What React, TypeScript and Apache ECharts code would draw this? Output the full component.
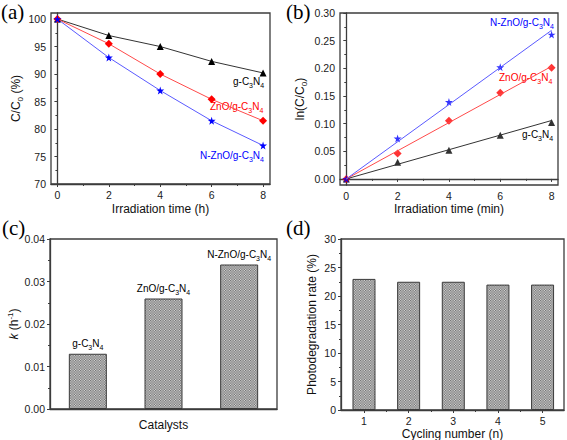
import React, { useEffect, useRef } from 'react';
import * as echarts from 'echarts';

// ---------- data ----------
const timeH = [0, 2, 4, 6, 8];
const aG = [100, 97, 95, 92.3, 90.2];
const aZnO = [100, 95.5, 90, 85.4, 81.5];
const aNZnO = [100, 93, 87, 81.5, 77];

const timeMin = [0, 2, 4, 6, 8];
const bG = [0, 0.03, 0.052, 0.079, 0.102];
const bZnO = [0, 0.046, 0.105, 0.156, 0.201];
const bNZnO = [0, 0.073, 0.139, 0.202, 0.261];
const fitX = [0, 8];
const fitG = [0, 0.1056];
const fitZnO = [0, 0.2035];
const fitNZnO = [0, 0.2687];

const catalysts = ['g-C3N4', 'ZnO/g-C3N4', 'N-ZnO/g-C3N4'];
const catalystRich = ['{n|g-C}{s|3}{n|N}{s|4}', '{n|ZnO/g-C}{s|3}{n|N}{s|4}', '{n|N-ZnO/g-C}{s|3}{n|N}{s|4}'];
const kValues = [0.013, 0.026, 0.034];

const cycles = [1, 2, 3, 4, 5];
const rates = [23, 22.5, 22.5, 22, 22];

// tick values
const aXMajor = [0, 2, 4, 6, 8];
const aXMinor = [1, 3, 5, 7];
const aYMajor = [70, 75, 80, 85, 90, 95, 100];
const aYMinor = [72.5, 77.5, 82.5, 87.5, 92.5, 97.5];
const bYMajor = [0, 0.05, 0.1, 0.15, 0.2, 0.25, 0.3];
const bYMinor = [0.025, 0.075, 0.125, 0.175, 0.225, 0.275];
const dXMinor = [1.5, 2.5, 3.5, 4.5];

const SANS = 'Liberation Sans, Arial, sans-serif';
const SERIF = 'Liberation Serif, Times New Roman, serif';
const AX = '#3c3c3c';

const zip = (xs: number[], ys: number[]) => xs.map((x, i) => [x, ys[i]]);

// rich styles for series labels (color) and graphic texts (fill)
const richLbl = (color: string) => ({
  n: { fontSize: 10, lineHeight: 15, color, fontFamily: SANS },
  s: { fontSize: 7, color, fontFamily: SANS, verticalAlign: 'bottom' },
});
const richFill = (fill: string) => ({
  n: { fontSize: 10, lineHeight: 15, fill, fontFamily: SANS },
  s: { fontSize: 7, fill, fontFamily: SANS, verticalAlign: 'bottom' },
});
const richName = {
  n: { fontSize: 12, lineHeight: 16, color: '#111', fontFamily: SANS },
  i: { fontSize: 12, lineHeight: 16, color: '#111', fontFamily: SANS, fontStyle: 'italic' },
  s: { fontSize: 8, color: '#111', fontFamily: SANS, verticalAlign: 'bottom' },
  p: { fontSize: 8, color: '#111', fontFamily: SANS, verticalAlign: 'top' },
};
const tickLabel = { fontFamily: SANS, fontSize: 10.5, color: '#1a1a1a' };
const axisLine = { show: true, lineStyle: { color: AX, width: 1.3 } };

function mainAxis(gridIndex: number, min: number, max: number, major: number[], extra: any = {}) {
  return {
    type: 'value', gridIndex, min, max,
    axisLine,
    splitLine: { show: false },
    axisTick: { show: true, inside: false, length: 3, customValues: major, lineStyle: { color: AX, width: 1 } },
    axisLabel: { ...tickLabel, customValues: major, margin: 5 },
    ...extra,
  };
}
function minorAxis(gridIndex: number, min: number, max: number, minor: number[], position: string) {
  return {
    type: 'value', gridIndex, min, max, position,
    axisLine: { show: false },
    splitLine: { show: false },
    axisTick: { show: true, inside: false, length: 2, customValues: minor, lineStyle: { color: AX, width: 1 } },
    axisLabel: { show: false },
  };
}

const STAR = 'path://M50,0 L61,35 L98,35 L68,57 L79,91 L50,70 L21,91 L32,57 L2,35 L39,35 Z';

export default function App() {
  const ref = useRef<HTMLDivElement>(null);
  useEffect(() => {
    if (!ref.current) return;
    const chart = echarts.init(ref.current, undefined, { renderer: 'svg' });

    const cv = document.createElement('canvas');
    cv.width = 4; cv.height = 4;
    const ctx = cv.getContext('2d')!;
    ctx.fillStyle = '#dadada'; ctx.fillRect(0, 0, 4, 4);
    ctx.fillStyle = '#6a6a6a'; ctx.fillRect(0, 0, 2, 2); ctx.fillRect(2, 2, 2, 2);
    const pattern: any = { image: cv.toDataURL(), repeat: 'repeat', imageWidth: 2.5, imageHeight: 2.5 };

    const gridBase = { show: true, borderColor: AX, borderWidth: 1.3, backgroundColor: 'transparent', outerBoundsMode: 'none' };
    const nameCommon = (gap: number) => ({ nameLocation: 'middle', nameGap: gap, nameTextStyle: { rich: richName } });

    const option: any = {
      animation: false,
      grid: [
        { ...gridBase, left: 51, top: 13, width: 219, height: 171 },
        { ...gridBase, left: 340, top: 13, width: 218, height: 172 },
        { ...gridBase, left: 50, top: 239, width: 227, height: 170 },
        { ...gridBase, left: 341, top: 239, width: 223, height: 171 },
      ],
      xAxis: [
        mainAxis(0, -0.25, 8.27, aXMajor, { name: '{n|Irradiation time (h)}', ...nameCommon(17) }),
        minorAxis(0, -0.25, 8.27, aXMinor, 'bottom'),
        mainAxis(1, -0.245, 8.25, aXMajor, { name: '{n|Irradiation time (min)}', ...nameCommon(16) }),
        minorAxis(1, -0.245, 8.25, aXMinor, 'bottom'),
        {
          type: 'category', gridIndex: 2, data: catalysts,
          axisLine, axisTick: { show: false }, axisLabel: { show: false },
          name: '{n|Catalysts}', ...nameCommon(8),
        },
        mainAxis(3, 0.485, 5.48, cycles, { name: '{n|Cycling number (n)}', ...nameCommon(16) }),
        minorAxis(3, 0.485, 5.48, dXMinor, 'bottom'),
      ],
      yAxis: [
        mainAxis(0, 70, 101.1, aYMajor, { position: 'left', name: '{n|C/C}{s|0}{n| (%)}', ...nameCommon(27) }),
        minorAxis(0, 70, 101.1, aYMinor, 'left'),
        mainAxis(1, -0.011, 0.3, bYMajor, {
          position: 'left', name: '{n|ln(C/C}{s|0}{n|)}', ...nameCommon(32),
          axisLabel: { ...tickLabel, customValues: bYMajor, margin: 5, formatter: (v: number) => v.toFixed(2) },
        }),
        minorAxis(1, -0.011, 0.3, bYMinor, 'left'),
        {
          type: 'value', gridIndex: 2, min: 0, max: 0.04, interval: 0.01, position: 'left',
          axisLine, splitLine: { show: false },
          axisTick: { show: true, length: 3, lineStyle: { color: AX } },
          minorTick: { show: true, splitNumber: 2, length: 2, lineStyle: { color: AX } },
          axisLabel: { ...tickLabel, margin: 5, formatter: (v: number) => v.toFixed(2) },
          name: '{i|k}{n| (h}{p|-1}{n|)}', ...nameCommon(28),
        },
        {
          type: 'value', gridIndex: 3, min: 0, max: 30, interval: 5, position: 'left',
          axisLine, splitLine: { show: false },
          axisTick: { show: true, length: 3, lineStyle: { color: AX } },
          minorTick: { show: true, splitNumber: 2, length: 2, lineStyle: { color: AX } },
          axisLabel: { ...tickLabel, margin: 5 },
          name: '{n|Photodegradation rate (%)}', ...nameCommon(21),
        },
      ],
      series: [
        // (a)
        { type: 'line', xAxisIndex: 0, yAxisIndex: 0, data: zip(timeH, aG), symbol: 'triangle', symbolSize: 7, color: '#000', lineStyle: { width: 1, color: '#333' } },
        { type: 'line', xAxisIndex: 0, yAxisIndex: 0, data: zip(timeH, aZnO), symbol: 'diamond', symbolSize: 8, color: '#ff0000', lineStyle: { width: 1, color: '#ff4a4a' } },
        { type: 'line', xAxisIndex: 0, yAxisIndex: 0, data: zip(timeH, aNZnO), symbol: STAR, symbolSize: 8, color: '#0000ff', lineStyle: { width: 1, color: '#5a5aff' } },
        // (b) fit lines
        { type: 'line', xAxisIndex: 2, yAxisIndex: 2, data: zip(fitX, fitG), symbol: 'none', lineStyle: { width: 1, color: '#333' } },
        { type: 'line', xAxisIndex: 2, yAxisIndex: 2, data: zip(fitX, fitZnO), symbol: 'none', lineStyle: { width: 1, color: '#ff4a4a' } },
        { type: 'line', xAxisIndex: 2, yAxisIndex: 2, data: zip(fitX, fitNZnO), symbol: 'none', lineStyle: { width: 1, color: '#5a5aff' } },
        // (b) points
        { type: 'scatter', xAxisIndex: 2, yAxisIndex: 2, data: zip(timeMin, bG), symbol: 'triangle', symbolSize: 7, itemStyle: { color: '#000' } },
        { type: 'scatter', xAxisIndex: 2, yAxisIndex: 2, data: zip(timeMin, bZnO), symbol: 'diamond', symbolSize: 8, itemStyle: { color: '#ff0000' } },
        { type: 'scatter', xAxisIndex: 2, yAxisIndex: 2, data: zip(timeMin, bNZnO), symbol: STAR, symbolSize: 8, itemStyle: { color: '#0000ff' } },
        // (c)
        {
          type: 'bar', xAxisIndex: 4, yAxisIndex: 4, data: kValues, barWidth: 38,
          itemStyle: { color: pattern, borderColor: '#3a3a3a', borderWidth: 1 },
          label: {
            show: true, position: 'top', distance: 3,
            formatter: (p: any) => catalystRich[p.dataIndex],
            rich: richLbl('#000'),
          },
        },
        // (d)
        {
          type: 'bar', xAxisIndex: 5, yAxisIndex: 5, data: zip(cycles, rates), barWidth: 23,
          itemStyle: { color: pattern, borderColor: '#3a3a3a', borderWidth: 1 },
        },
      ],
      graphic: [
        { type: 'text', x: 1, y: 12, style: { text: '(a)', font: `21px ${SERIF}`, fill: '#000', verticalAlign: 'middle' } },
        { type: 'text', x: 286, y: 12, style: { text: '(b)', font: `21px ${SERIF}`, fill: '#000', verticalAlign: 'middle' } },
        { type: 'text', x: 2, y: 228, style: { text: '(c)', font: `21px ${SERIF}`, fill: '#000', verticalAlign: 'middle' } },
        { type: 'text', x: 286, y: 228, style: { text: '(d)', font: `21px ${SERIF}`, fill: '#000', verticalAlign: 'middle' } },
        { type: 'text', x: 233, y: 81, style: { text: '{n|g-C}{s|3}{n|N}{s|4}', rich: richFill('#000'), fill: '#000', verticalAlign: 'middle' } },
        { type: 'text', x: 210, y: 106, style: { text: '{n|ZnO/g-C}{s|3}{n|N}{s|4}', rich: richFill('#ff0000'), fill: '#ff0000', verticalAlign: 'middle' } },
        { type: 'text', x: 200, y: 155, style: { text: '{n|N-ZnO/g-C}{s|3}{n|N}{s|4}', rich: richFill('#0000ff'), fill: '#0000ff', verticalAlign: 'middle' } },
        { type: 'text', x: 490, y: 22, style: { text: '{n|N-ZnO/g-C}{s|3}{n|N}{s|4}', rich: richFill('#0000ff'), fill: '#0000ff', verticalAlign: 'middle' } },
        { type: 'text', x: 499, y: 77, style: { text: '{n|ZnO/g-C}{s|3}{n|N}{s|4}', rich: richFill('#ff0000'), fill: '#ff0000', verticalAlign: 'middle' } },
        { type: 'text', x: 522, y: 134, style: { text: '{n|g-C}{s|3}{n|N}{s|4}', rich: richFill('#000'), fill: '#000', verticalAlign: 'middle' } },
      ],
    };
    chart.setOption(option);
    return () => chart.dispose();
  }, []);
  return <div ref={ref} style={{ position: 'absolute', left: 0, top: 0, width: 567, height: 440 }} />;
}
